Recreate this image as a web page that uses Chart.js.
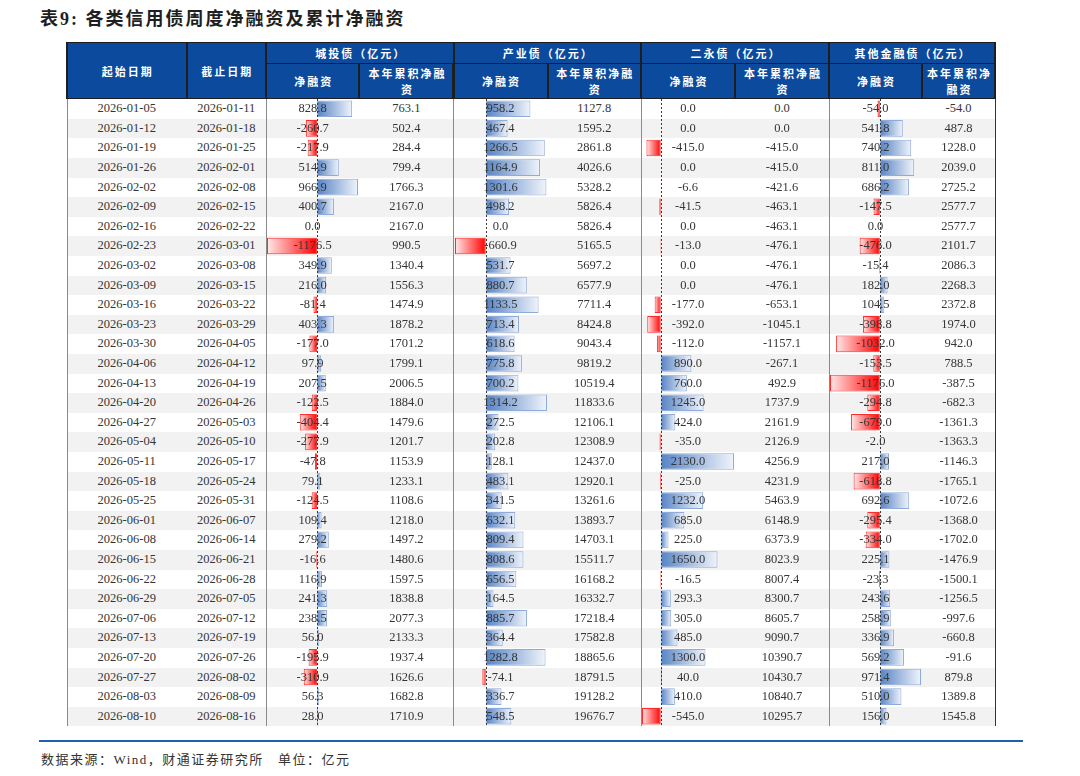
<!DOCTYPE html>
<html>
<head>
<meta charset="utf-8">
<script src="https://cdn.jsdelivr.net/npm/chart.js@4.4.1/dist/chart.umd.min.js"></script>
<style>
html, body { margin: 0; padding: 0; background: #fff; }
body { width: 1080px; height: 776px; position: relative; overflow: hidden; }
#title { position: absolute; left: 40px; top: 4px; font-size: 18px; font-weight: bold; color: #1f1f1f;
  letter-spacing: 2px; font-family: "Liberation Serif", "Noto Sans CJK SC", serif; white-space: nowrap; }
#headBg { position: absolute; background: #1e1e1e; }
.hd { position: absolute; background: #0b4a9c; color: #fff; font-family: "Noto Sans CJK SC", sans-serif;
  font-weight: bold; font-size: 11px; letter-spacing: 2px; padding-left: 2px; display: flex; align-items: center;
  justify-content: center; text-align: center; line-height: 16px; box-sizing: border-box; }
.stripe { position: absolute; z-index: 1; }
.vline { position: absolute; z-index: 4; }
.cell { position: absolute; z-index: 3; font-family: "Liberation Serif", serif; font-size: 12.5px; color: #353535;
  text-align: center; white-space: nowrap; }
canvas { position: absolute; z-index: 2; }
#footLine { position: absolute; left: 39px; top: 740px; width: 984px; height: 2px; background: #1f5fad; }
#source { position: absolute; left: 41px; top: 749px; font-size: 13px; color: #333; letter-spacing: 1.5px;
  font-family: "Liberation Serif", "Noto Sans CJK SC", serif; white-space: nowrap; }
</style>
</head>
<body>
<div id="title">表9: 各类信用债周度净融资及累计净融资</div>
<div id="footLine"></div>
<div id="source">数据来源：Wind，财通证券研究所&nbsp;&nbsp;&nbsp;单位：亿元</div>
<script>
// 数据
const startDates = ['2026-01-05','2026-01-12','2026-01-19','2026-01-26','2026-02-02','2026-02-09','2026-02-16','2026-02-23',
  '2026-03-02','2026-03-09','2026-03-16','2026-03-23','2026-03-30','2026-04-06','2026-04-13','2026-04-20',
  '2026-04-27','2026-05-04','2026-05-11','2026-05-18','2026-05-25','2026-06-01','2026-06-08','2026-06-15',
  '2026-06-22','2026-06-29','2026-07-06','2026-07-13','2026-07-20','2026-07-27','2026-08-03','2026-08-10'];
const endDates = ['2026-01-11','2026-01-18','2026-01-25','2026-02-01','2026-02-08','2026-02-15','2026-02-22','2026-03-01',
  '2026-03-08','2026-03-15','2026-03-22','2026-03-29','2026-04-05','2026-04-12','2026-04-19','2026-04-26',
  '2026-05-03','2026-05-10','2026-05-17','2026-05-24','2026-05-31','2026-06-07','2026-06-14','2026-06-21',
  '2026-06-28','2026-07-05','2026-07-12','2026-07-19','2026-07-26','2026-08-02','2026-08-09','2026-08-16'];

const chengtouNet = [828.8,-260.7,-217.9,514.9,966.9,400.7,0.0,-1176.5,349.9,216.0,-81.4,403.3,-177.0,97.9,207.5,-122.5,
  -404.4,-277.9,-47.8,79.1,-124.5,109.4,279.2,-16.6,116.9,241.3,238.5,56.0,-195.9,-310.9,56.3,28.0];
const chengtouCum = [763.1,502.4,284.4,799.4,1766.3,2167.0,2167.0,990.5,1340.4,1556.3,1474.9,1878.2,1701.2,1799.1,2006.5,1884.0,
  1479.6,1201.7,1153.9,1233.1,1108.6,1218.0,1497.2,1480.6,1597.5,1838.8,2077.3,2133.3,1937.4,1626.6,1682.8,1710.9];

const chanyeNet = [958.2,467.4,1266.5,1164.9,1301.6,498.2,0.0,-660.9,531.7,880.7,1133.5,713.4,618.6,775.8,700.2,1314.2,
  272.5,202.8,128.1,483.1,341.5,632.1,809.4,808.6,656.5,164.5,885.7,364.4,1282.8,-74.1,336.7,548.5];
const chanyeCum = [1127.8,1595.2,2861.8,4026.6,5328.2,5826.4,5826.4,5165.5,5697.2,6577.9,7711.4,8424.8,9043.4,9819.2,10519.4,11833.6,
  12106.1,12308.9,12437.0,12920.1,13261.6,13893.7,14703.1,15511.7,16168.2,16332.7,17218.4,17582.8,18865.6,18791.5,19128.2,19676.7];

const eryongNet = [0.0,0.0,-415.0,0.0,-6.6,-41.5,0.0,-13.0,0.0,0.0,-177.0,-392.0,-112.0,890.0,760.0,1245.0,
  424.0,-35.0,2130.0,-25.0,1232.0,685.0,225.0,1650.0,-16.5,293.3,305.0,485.0,1300.0,40.0,410.0,-545.0];
const eryongCum = [0.0,0.0,-415.0,-415.0,-421.6,-463.1,-463.1,-476.1,-476.1,-476.1,-653.1,-1045.1,-1157.1,-267.1,492.9,1737.9,
  2161.9,2126.9,4256.9,4231.9,5463.9,6148.9,6373.9,8023.9,8007.4,8300.7,8605.7,9090.7,10390.7,10430.7,10840.7,10295.7];

const otherNet = [-54.0,541.8,740.2,811.0,686.2,-147.5,0.0,-476.0,-15.4,182.0,104.5,-398.8,-1032.0,-153.5,-1176.0,-294.8,
  -679.0,-2.0,217.0,-618.8,692.6,-295.4,-334.0,225.1,-23.3,243.6,258.9,336.9,569.2,971.4,510.0,156.0];
const otherCum = [-54.0,487.8,1228.0,2039.0,2725.2,2577.7,2577.7,2101.7,2086.3,2268.3,2372.8,1974.0,942.0,788.5,-387.5,-682.3,
  -1361.3,-1363.3,-1146.3,-1765.1,-1072.6,-1368.0,-1702.0,-1476.9,-1500.1,-1256.5,-997.6,-660.8,-91.6,879.8,1389.8,1545.8];

const groupTitles = ['城投债（亿元）','产业债（亿元）','二永债（亿元）','其他金融债（亿元）'];

// 版式
const colX = [67, 186.5, 266, 359.3, 453.5, 547.5, 641, 735, 829, 922, 995];
const headTop = 43, headMid = 63.5, headBottom = 99;
const bodyTop = 99.2, rowH = 19.6;
const nRows = startDates.length;

function addDiv(cls, x, y, w, h, html) {
  const d = document.createElement('div');
  d.className = cls;
  d.style.left = x + 'px'; d.style.top = y + 'px';
  d.style.width = w + 'px'; d.style.height = h + 'px';
  if (html !== undefined) d.innerHTML = html;
  document.body.appendChild(d);
  return d;
}

// 表头
addDiv('', colX[0] - 1, headTop - 1, colX[10] - colX[0] + 2, headBottom - headTop + 1).id = 'headBg';
function headCell(c0, c1, y0, y1, html) {
  addDiv('hd', colX[c0] + 1, y0 + 1, colX[c1] - colX[c0] - 2, y1 - y0 - 2, html);
}
headCell(0, 1, headTop - 1, headBottom, '起始日期');
headCell(1, 2, headTop - 1, headBottom, '截止日期');
groupTitles.forEach((t, k) => {
  const c = 2 + k * 2;
  headCell(c, c + 2, headTop - 1, headMid, t);
  headCell(c, c + 1, headMid - 1, headBottom, '净融资');
  headCell(c + 1, c + 2, headMid - 1, headBottom, k === 3 ? '本年累积净<br>融资' : '本年累积净融<br>资');
});

// 斑马纹
for (let i = 0; i < nRows; i++) {
  const s = addDiv('stripe', colX[0], bodyTop + i * rowH, colX[10] - colX[0], rowH);
  s.style.background = i % 2 ? '#f2f2f2' : '#ffffff';
}

// 竖线
const bodyBottom = bodyTop + nRows * rowH;
[0, 2, 4, 6, 8].forEach(c => {
  const v = addDiv('vline', colX[c] - 0.5, headBottom, 1, bodyBottom - headBottom);
  v.style.background = '#8a8a8a';
});
addDiv('vline', colX[10] - 0.5, headBottom, 1.5, bodyBottom - headBottom).style.background = '#333';

// 文字
const columns = [startDates, endDates, chengtouNet, chengtouCum, chanyeNet, chanyeCum, eryongNet, eryongCum, otherNet, otherCum];
columns.forEach((arr, c) => {
  arr.forEach((v, i) => {
    const txt = typeof v === 'number' ? v.toFixed(1) : v;
    const d = addDiv('cell', colX[c], bodyTop + i * rowH, colX[c + 1] - colX[c], rowH, txt);
    d.style.lineHeight = rowH + 'px';
  });
});

// 数据条
function barFill(ctx) {
  const chart = ctx.chart, v = ctx.raw;
  const sx = chart.scales.x;
  if (!sx || !chart.chartArea) return v < 0 ? '#ff0000' : '#5a87c6';
  const x0 = sx.getPixelForValue(0), x1 = sx.getPixelForValue(v);
  if (Math.abs(x1 - x0) < 0.01) return 'rgba(0,0,0,0)';
  const g = chart.ctx.createLinearGradient(x0, 0, x1, 0);
  if (v < 0) { g.addColorStop(0, '#ff0000'); g.addColorStop(1, '#ffe8e8'); }
  else { g.addColorStop(0, '#5683c4'); g.addColorStop(1, '#f0f4fb'); }
  return g;
}
const zeroLine = {
  id: 'zeroLine',
  afterDatasetsDraw(chart) {
    const x = Math.round(chart.scales.x.getPixelForValue(0)) + 0.5;
    const { top, bottom } = chart.chartArea;
    const c = chart.ctx;
    c.save();
    c.strokeStyle = '#3a3a3a';
    c.lineWidth = 1;
    c.setLineDash([2, 2]);
    c.beginPath(); c.moveTo(x, top); c.lineTo(x, bottom); c.stroke();
    c.restore();
  }
};

[chengtouNet, chanyeNet, eryongNet, otherNet].forEach((data, k) => {
  const c = 2 + k * 2;
  const w = Math.round(colX[c + 1] - colX[c] - 2);
  const h = Math.round(nRows * rowH);
  const cv = document.createElement('canvas');
  cv.width = w; cv.height = h;
  cv.style.left = (colX[c] + 1) + 'px';
  cv.style.top = bodyTop + 'px';
  cv.style.width = w + 'px'; cv.style.height = h + 'px';
  document.body.appendChild(cv);
  new Chart(cv.getContext('2d'), {
    type: 'bar',
    data: {
      labels: startDates,
      datasets: [{
        data: data,
        backgroundColor: barFill,
        borderColor: data.map(v => v < 0 ? '#ff2a2a' : '#8eabd9'),
        borderWidth: 1,
        borderSkipped: false,
        barPercentage: 0.85,
        categoryPercentage: 1
      }]
    },
    options: {
      indexAxis: 'y',
      responsive: false,
      animation: false,
      layout: { padding: 0 },
      plugins: { legend: { display: false }, tooltip: { enabled: false } },
      scales: {
        x: { type: 'linear', display: false, min: Math.min(...data), max: Math.max(...data) },
        y: { display: false, offset: true }
      }
    },
    plugins: [zeroLine]
  });
});
</script>
</body>
</html>
